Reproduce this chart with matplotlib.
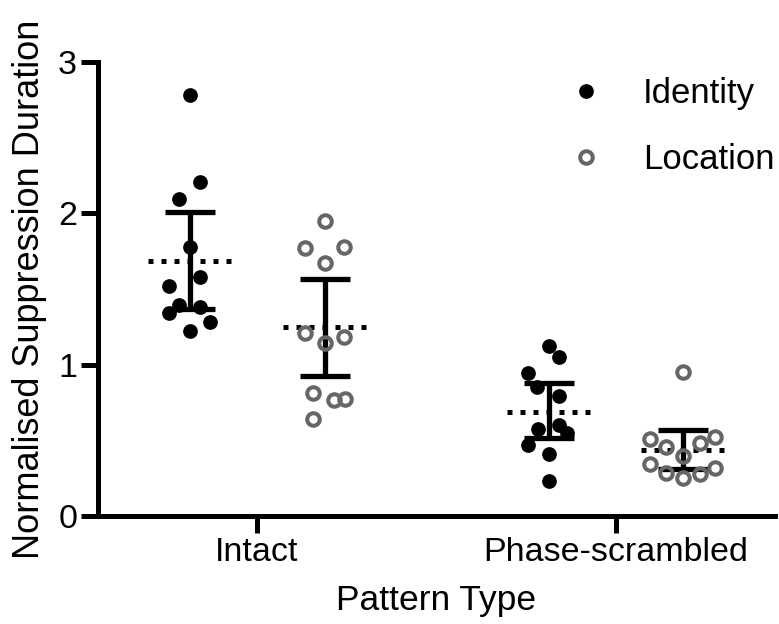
import matplotlib
matplotlib.use("Agg")
import matplotlib.pyplot as plt
import numpy as np
from matplotlib.lines import Line2D

plt.rcParams['font.family'] = ['Liberation Sans', 'DejaVu Sans']

categories = ["Intact", "Phase-scrambled"]
series_names = ["Identity", "Location"]

# individual points
identity_intact = [2.78, 2.21, 2.095, 1.78, 1.577, 1.52, 1.395, 1.383, 1.34, 1.284, 1.225]
identity_phase = [1.124, 1.049, 0.943, 0.85, 0.793, 0.575, 0.601, 0.547, 0.469, 0.41, 0.233]
location_intact = [1.952, 1.769, 1.78, 1.67, 1.208, 1.181, 1.141, 0.815, 0.767, 0.771, 0.639]
location_phase = [0.952, 0.507, 0.458, 0.48, 0.52, 0.397, 0.344, 0.315, 0.282, 0.278, 0.249]

# swarm jitter (data units)
jit_identity_intact = [0, 0.028, -0.028, 0, 0.028, -0.056, -0.028, 0.028, -0.056, 0.056, 0]
jit_identity_phase = [0, 0.028, -0.056, -0.032, 0.028, -0.028, 0.028, 0.051, -0.056, 0, 0]
jit_location_intact = [0, -0.054, 0.053, 0, -0.054, 0.053, 0, -0.031, 0.026, 0.057, -0.031]
jit_location_phase = [0, -0.092, -0.050, 0.047, 0.089, 0, -0.092, 0.089, -0.050, 0.047, 0]

# mean and 95% CI
identity_mean = [1.685, 0.69]
identity_lo = [1.366, 0.514]
identity_hi = [2.01, 0.881]
location_mean = [1.247, 0.436]
location_lo = [0.927, 0.309]
location_hi = [1.564, 0.568]

fig = plt.figure(figsize=(7.79, 6.24), dpi=100)
ax = fig.add_axes([0.1258, 0.1731, 0.9949 - 0.1258, 0.9006 - 0.1731])

x = np.arange(len(categories))
off = 0.188
gray = '#666666'
ID_MS = 10.6
LOC_MS = 9.0
LOC_MEW = 2.9

def draw(values_list, jit_list, center, filled, mean, lo, hi):
    for i, (vals, jit) in enumerate(zip(values_list, jit_list)):
        xc = x[i] + center
        xs = xc + np.array(jit)
        if filled:
            ax.plot(xs, vals, 'o', ms=ID_MS, mfc='black', mec='black', mew=0, zorder=4, clip_on=False)
        else:
            ax.plot(xs, vals, 'o', ms=LOC_MS, mfc='none', mec=gray, mew=LOC_MEW, zorder=4, clip_on=False)
        ax.errorbar([xc], [mean[i]], yerr=[[mean[i] - lo[i]], [hi[i] - mean[i]]],
                    fmt='none', ecolor='black', elinewidth=3.8, capsize=18, capthick=3.8, zorder=3)
        ax.plot([xc - 0.117, xc + 0.117], [mean[i], mean[i]], color='black', lw=3.6,
                linestyle=(0, (1, 1.6)), zorder=3)

draw([identity_intact, identity_phase], [jit_identity_intact, jit_identity_phase], -off, True,
     identity_mean, identity_lo, identity_hi)
draw([location_intact, location_phase], [jit_location_intact, jit_location_phase], off, False,
     location_mean, location_lo, location_hi)

ax.set_xlim(-0.443, 1.443)
ax.set_ylim(0, 3)
ax.set_xticks(x)
ax.set_xticklabels(categories, fontsize=24.5)
ax.set_yticks([0, 1, 2, 3])
ax.set_yticklabels(['0', '1', '2', '3'], fontsize=24.5)
ax.tick_params(axis='both', length=12, width=3.6, color='black', pad=3)
for s in ['top', 'right']:
    ax.spines[s].set_visible(False)
for s in ['left', 'bottom']:
    ax.spines[s].set_linewidth(3.6)
ax.set_xlabel("Pattern Type", fontsize=25.5, labelpad=12)
ax.set_ylabel("Normalised Suppression Duration", fontsize=26, labelpad=8)

handles = [Line2D([], [], ls='none', marker='o', ms=ID_MS, mfc='black', mec='black', mew=0),
           Line2D([], [], ls='none', marker='o', ms=LOC_MS, mfc='none', mec=gray, mew=LOC_MEW)]
ax.legend(handles, series_names, loc='upper right', bbox_to_anchor=(1.035, 1.02), frameon=False,
          fontsize=25, handletextpad=1.13, labelspacing=0.95, handlelength=1.0, borderpad=0.2)

fig.savefig("out.png", dpi=100)
